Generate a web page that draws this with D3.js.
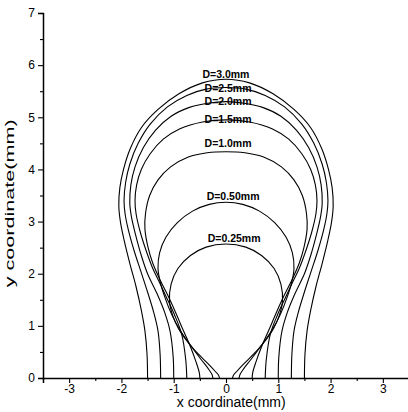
<!DOCTYPE html>
<html>
<head>
<meta charset="utf-8">
<script src="https://cdn.jsdelivr.net/npm/d3@7"></script>
<style>
  html, body { margin: 0; padding: 0; background: #fff; }
  svg { display: block; }
  text { font-family: "Liberation Sans", Arial, Helvetica, sans-serif; fill: #000; }
</style>
</head>
<body>
<svg id="chart" width="408" height="412"></svg>
<script>
// ---- data (right half of each bubble profile, from the orifice edge up to the apex) ----
const diameters = [3.0, 2.5, 2.0, 1.5, 1.0, 0.5, 0.25];
const labels = ["D=3.0mm", "D=2.5mm", "D=2.0mm", "D=1.5mm", "D=1.0mm", "D=0.50mm", "D=0.25mm"];

const profileD300 = [[1.50,0],[1.51,0.45],[1.55,0.9],[1.62,1.3],[1.72,1.75],[1.84,2.2],[1.95,2.65],[2.02,3.0],[2.05,3.3],[2.03,3.65],[1.96,4.0],[1.83,4.4],[1.62,4.8],[1.3,5.15],[0.9,5.45],[0.45,5.66],[0,5.73]];
const profileD250 = [[1.25,0],[1.26,0.45],[1.30,0.9],[1.38,1.25],[1.50,1.65],[1.63,2.05],[1.76,2.45],[1.87,2.85],[1.93,3.15],[1.95,3.4],[1.92,3.75],[1.84,4.1],[1.68,4.5],[1.45,4.87],[1.12,5.2],[0.75,5.42],[0.38,5.54],[0,5.57]];
const profileD200 = [[1.0,0],[1.01,0.4],[1.07,0.9],[1.17,1.25],[1.32,1.62],[1.50,2.0],[1.62,2.35],[1.73,2.75],[1.81,3.1],[1.84,3.35],[1.82,3.7],[1.74,4.05],[1.58,4.42],[1.35,4.75],[1.05,5.02],[0.7,5.19],[0.35,5.27],[0,5.30]];
const profileD150 = [[0.75,0],[0.77,0.35],[0.85,0.85],[0.98,1.2],[1.14,1.55],[1.28,1.85],[1.40,2.1],[1.53,2.45],[1.64,2.8],[1.72,3.15],[1.74,3.4],[1.71,3.7],[1.62,4.0],[1.45,4.3],[1.2,4.58],[0.88,4.78],[0.45,4.91],[0,4.95]];
const profileD100 = [[0.5,0],[0.51,0.1],[0.57,0.3],[0.68,0.6],[0.82,0.92],[0.97,1.27],[1.12,1.6],[1.27,1.9],[1.40,2.2],[1.49,2.5],[1.55,2.85],[1.54,3.15],[1.46,3.5],[1.3,3.8],[1.06,4.05],[0.72,4.24],[0.36,4.32],[0,4.34]];
const profileD050 = [[0.25,0],[0.27,0.07],[0.34,0.18],[0.48,0.36],[0.68,0.63],[0.88,0.92],[1.04,1.22],[1.17,1.55],[1.26,1.85],[1.30,2.1],[1.27,2.4],[1.15,2.7],[0.93,2.98],[0.64,3.2],[0.32,3.33],[0,3.37]];
const profileD025 = [[0.125,0],[0.14,0.05],[0.2,0.12],[0.34,0.27],[0.54,0.47],[0.74,0.7],[0.91,0.95],[1.02,1.2],[1.08,1.47],[1.05,1.8],[0.92,2.1],[0.68,2.35],[0.38,2.51],[0,2.57]];

const profiles = [profileD300, profileD250, profileD200, profileD150, profileD100, profileD050, profileD025];

// label anchor points (data units)
const labelX = [-0.45, -0.41, -0.41, -0.41, -0.41, -0.37, -0.35];
const labelY = [5.75, 5.49, 5.24, 4.89, 4.43, 3.41, 2.61];

const xMajorTicks = [-3, -2, -1, 0, 1, 2, 3];
const xMinorTicks = [-3.5, -2.5, -1.5, -0.5, 0.5, 1.5, 2.5, 3.5];
const yMajorTicks = [0, 1, 2, 3, 4, 5, 6, 7];
const yMinorTicks = [0.5, 1.5, 2.5, 3.5, 4.5, 5.5, 6.5];

// ---- layout ----
const svg = d3.select("#chart");
const x = d3.scaleLinear().domain([-3.5, 3.5]).range([43, 409]);
const y = d3.scaleLinear().domain([0, 7]).range([378, 13]);

// ---- curves ----
const line = d3.line()
  .x(d => x(d[0]))
  .y(d => y(d[1]))
  .curve(d3.curveCatmullRom.alpha(0.5));

profiles.forEach(p => {
  const left = p.map(([a, b]) => [-a, b]);            // base -> apex on the left
  const right = p.slice(0, -1).reverse();             // apex -> base on the right
  const full = left.concat(right);
  svg.append("path")
    .attr("d", line(full))
    .attr("fill", "none")
    .attr("stroke", "#000")
    .attr("stroke-width", 1.1);
});

// ---- labels ----
labels.forEach((t, i) => {
  svg.append("text")
    .attr("x", x(labelX[i]))
    .attr("y", y(labelY[i]))
    .attr("font-size", "10.5px")
    .attr("font-weight", "bold")
    .text(t);
});

// ---- axes ----
const gx = svg.append("g").attr("transform", `translate(0,${y(0)})`);
gx.call(d3.axisBottom(x).tickValues(xMajorTicks).tickSize(5).tickPadding(1)
  .tickFormat(d => d === 0 ? "0" : d3.format("d")(d).replace("−", "-")));
const gxm = svg.append("g").attr("transform", `translate(0,${y(0)})`);
gxm.call(d3.axisBottom(x).tickValues(xMinorTicks).tickSize(3).tickFormat(""));
gxm.select(".domain").remove();

const gy = svg.append("g").attr("transform", `translate(${x(-3.5)},0)`);
gy.call(d3.axisLeft(y).tickValues(yMajorTicks).tickSize(5).tickPadding(3).tickFormat(d3.format("d")));
const gym = svg.append("g").attr("transform", `translate(${x(-3.5)},0)`);
gym.call(d3.axisLeft(y).tickValues(yMinorTicks).tickSize(3).tickFormat(""));
gym.select(".domain").remove();

svg.selectAll(".domain").attr("stroke", "#000").attr("stroke-width", 1.5);
svg.selectAll(".tick line").attr("stroke", "#000").attr("stroke-width", 1.1);
svg.selectAll(".tick text")
  .attr("font-family", '"Liberation Sans", Arial, sans-serif')
  .attr("font-size", "12px")
  .attr("fill", "#000");

// ---- axis titles ----
svg.append("text")
  .attr("x", x(0.1))
  .attr("y", 407)
  .attr("text-anchor", "middle")
  .attr("font-size", "14px")
  .text("x coordinate(mm)");

svg.append("text")
  .attr("transform", `translate(14,${y(3.35)}) rotate(-90)`)
  .attr("text-anchor", "middle")
  .attr("font-size", "12px")
  .attr("textLength", 168)
  .attr("lengthAdjust", "spacingAndGlyphs")
  .text("y coordinate(mm)");
</script>
</body>
</html>
